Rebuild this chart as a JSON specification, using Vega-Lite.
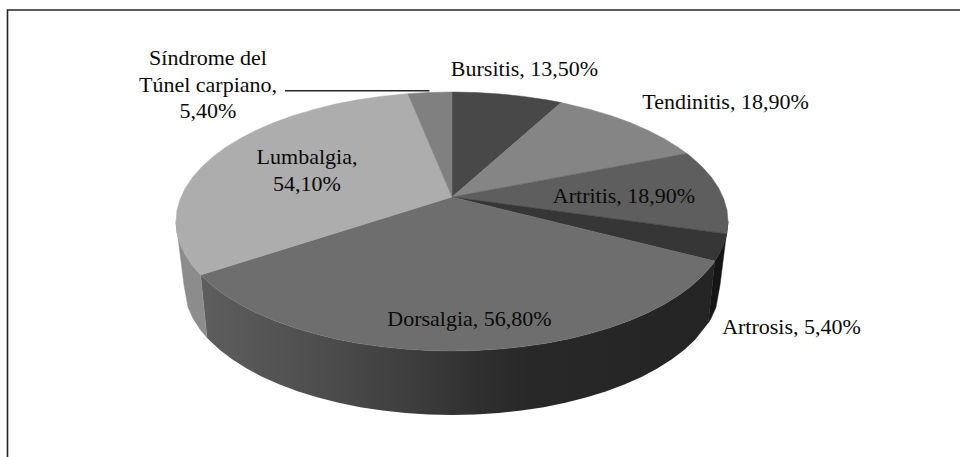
{
"$schema":"https://vega.github.io/schema/vega-lite/v6.json",
"width":960,"height":457,"padding":0,"autosize":"none",
"background":"white",
"config":{"view":{"stroke":null}},
"projection":{"type":"identity","reflectY":true,"scale":1,"translate":[452,221.5]},
"datasets":{
"porciones":{"type":"FeatureCollection","features":[
{"type":"Feature","properties":{"parte":"Lumbalgia lateral","valor":54.1},"geometry":{"type":"Polygon","coordinates":[[[-251.4,-53.5],[-259.4,-44.3],[-266.6,-33.5],[-271.8,-22.5],[-275,-11.3],[-276,0],[-268,-63.5],[-263.9,-86.1],[-258.9,-97.1],[-251.8,-108],[-245,-116.2],[-251.4,-53.5]]]}},
{"type":"Feature","properties":{"parte":"Artrosis lateral","valor":5.4},"geometry":{"type":"Polygon","coordinates":[[[262.8,-39.6],[266.6,-33.5],[271.8,-22.5],[274.7,-12.4],[276,0],[268,-63.5],[263.9,-86.1],[258.9,-97.1],[256.3,-101.5],[262.8,-39.6]]]}},
{"type":"Feature","properties":{"parte":"Bursitis","valor":13.5},"geometry":{"type":"Polygon","coordinates":[[[0,24.5],[0,129.5],[24.1,129],[47.9,127.5],[71.4,125.1],[94.4,121.7],[109.2,118.9],[0,24.5]]]}},
{"type":"Feature","properties":{"parte":"Tendinitis","valor":18.9},"geometry":{"type":"Polygon","coordinates":[[[0,24.5],[109.2,118.9],[138,112.1],[158.3,106.1],[177.4,99.2],[195.2,91.6],[211.4,83.2],[226.1,74.3],[234.8,68],[0,24.5]]]}},
{"type":"Feature","properties":{"parte":"Artritis","valor":18.9},"geometry":{"type":"Polygon","coordinates":[[[0,24.5],[234.8,68],[239,64.8],[250.1,54.7],[259.4,44.3],[266.6,33.5],[271.8,22.5],[275,11.3],[276,0],[274.7,-12.4],[0,24.5]]]}},
{"type":"Feature","properties":{"parte":"Artrosis","valor":5.4},"geometry":{"type":"Polygon","coordinates":[[[0,24.5],[274.7,-12.4],[271.8,-22.5],[266.6,-33.5],[262.8,-39.6],[0,24.5]]]}},
{"type":"Feature","properties":{"parte":"Dorsalgia","valor":56.8},"geometry":{"type":"Polygon","coordinates":[[[0,24.5],[262.8,-39.6],[259.4,-44.3],[250.1,-54.7],[239,-64.8],[226.1,-74.3],[211.4,-83.2],[195.2,-91.6],[177.4,-99.2],[158.3,-106.1],[138,-112.1],[116.6,-117.4],[94.4,-121.7],[71.4,-125.1],[47.9,-127.5],[24.1,-129],[0,-129.5],[-24.1,-129],[-47.9,-127.5],[-71.4,-125.1],[-94.4,-121.7],[-116.6,-117.4],[-138,-112.1],[-158.3,-106.1],[-177.4,-99.2],[-195.2,-91.6],[-211.4,-83.2],[-226.1,-74.3],[-239,-64.8],[-251.4,-53.5],[0,24.5]]]}},
{"type":"Feature","properties":{"parte":"Lumbalgia","valor":54.1},"geometry":{"type":"Polygon","coordinates":[[[0,24.5],[-251.4,-53.5],[-259.4,-44.3],[-266.6,-33.5],[-271.8,-22.5],[-275,-11.3],[-276,0],[-275,11.3],[-271.8,22.5],[-266.6,33.5],[-259.4,44.3],[-250.1,54.7],[-239,64.8],[-226.1,74.3],[-211.4,83.2],[-195.2,91.6],[-177.4,99.2],[-158.3,106.1],[-138,112.1],[-116.6,117.4],[-94.4,121.7],[-71.4,125.1],[-47.9,127.5],[-44.1,127.8],[0,24.5]]]}},
{"type":"Feature","properties":{"parte":"Síndrome del Túnel carpiano","valor":5.4},"geometry":{"type":"Polygon","coordinates":[[[0,24.5],[-44.1,127.8],[-24.1,129],[0,129.5],[0,24.5]]]}}
]},
"lateralDorsalgia":{"type":"FeatureCollection","features":[
{"type":"Feature","properties":{"parte":"Dorsalgia lateral","valor":56.8},"geometry":{"type":"Polygon","coordinates":[[[262.8,-39.6],[259.4,-44.3],[250.1,-54.7],[239,-64.8],[226.1,-74.3],[211.4,-83.2],[195.2,-91.6],[177.4,-99.2],[158.3,-106.1],[138,-112.1],[116.6,-117.4],[94.4,-121.7],[71.4,-125.1],[47.9,-127.5],[24.1,-129],[0,-129.5],[-24.1,-129],[-47.9,-127.5],[-71.4,-125.1],[-94.4,-121.7],[-116.6,-117.4],[-138,-112.1],[-158.3,-106.1],[-177.4,-99.2],[-195.2,-91.6],[-211.4,-83.2],[-226.1,-74.3],[-239,-64.8],[-251.4,-53.5],[-245,-116.2],[-242.9,-118.4],[-232.1,-128.5],[-219.5,-138.1],[-205.3,-147.1],[-189.5,-155.4],[-172.3,-163.1],[-153.7,-170],[-134,-176.1],[-113.3,-181.3],[-91.7,-185.7],[-69.4,-189.1],[-46.5,-191.5],[-23.4,-193],[0,-193.5],[23.4,-193],[46.5,-191.5],[69.4,-189.1],[91.7,-185.7],[113.3,-181.3],[134,-176.1],[153.7,-170],[172.3,-163.1],[189.5,-155.4],[205.3,-147.1],[219.5,-138.1],[232.1,-128.5],[242.9,-118.4],[256.3,-101.5],[262.8,-39.6]]]}}
]},
"trazos":{"type":"FeatureCollection","features":[
{"type":"Feature","properties":{"trazo":"marco"},"geometry":{"type":"LineString","coordinates":[[-444.5,-235.5],[-444.5,211.5],[508,211.5]]}},
{"type":"Feature","properties":{"trazo":"guía"},"geometry":{"type":"LineString","coordinates":[[-167,130.8],[-22.6,130.8]]}}
]},
"etiquetas":[
{"etiqueta":"Bursitis, 13,50%","lon":72.5,"lat":152.5},
{"etiqueta":"Tendinitis, 18,90%","lon":273.5,"lat":119.5},
{"etiqueta":"Artritis, 18,90%","lon":172,"lat":25.5},
{"etiqueta":"Artrosis, 5,40%","lon":339.5,"lat":-105.5},
{"etiqueta":"Dorsalgia, 56,80%","lon":17.5,"lat":-97.5},
{"etiqueta":"Lumbalgia,\n54,10%","lon":-145,"lat":64.5},
{"etiqueta":"Síndrome del\nTúnel carpiano,\n5,40%","lon":-244,"lat":163.5}
]
},
"layer":[
{"data":{"name":"trazos","format":{"type":"json","property":"features"}},
 "mark":{"type":"geoshape","filled":false,"stroke":"#262626","strokeWidth":1.6},
 "encoding":{}},
{"data":{"name":"lateralDorsalgia","format":{"type":"json","property":"features"}},
 "mark":{"type":"geoshape","fill":{"gradient":"linear","x1":0,"y1":0,"x2":1,"y2":0,"stops":[{"offset":0,"color":"#5e5e5e"},{"offset":0.25,"color":"#4c4c4c"},{"offset":0.445,"color":"#3a3a3a"},{"offset":0.54,"color":"#2f2f2f"},{"offset":0.64,"color":"#282828"},{"offset":1,"color":"#242424"}]}},
 "encoding":{}},
{"data":{"name":"porciones","format":{"type":"json","property":"features"}},
 "mark":{"type":"geoshape","strokeWidth":0.5},
 "encoding":{
  "color":{"field":"properties.parte","type":"nominal","legend":null,
   "scale":{"domain":["Bursitis","Tendinitis","Artritis","Artrosis","Dorsalgia","Lumbalgia","Síndrome del Túnel carpiano","Lumbalgia lateral","Artrosis lateral"],
    "range":["#484848","#858585","#5e5e5e","#363636","#6e6e6e","#adadad","#808080","#8c8c8c","#151515"]}},
  "stroke":{"field":"properties.parte","type":"nominal","legend":null,
   "scale":{"domain":["Bursitis","Tendinitis","Artritis","Artrosis","Dorsalgia","Lumbalgia","Síndrome del Túnel carpiano","Lumbalgia lateral","Artrosis lateral"],
    "range":["#484848","#858585","#5e5e5e","#363636","#6e6e6e","#adadad","#808080","#8c8c8c","#151515"]}}
 }},
{"data":{"name":"etiquetas"},
 "mark":{"type":"text","font":"Liberation Serif","fontSize":22,"color":"#0a0a0a","align":"center","baseline":"middle","lineBreak":"\n","lineHeight":26.5},
 "encoding":{
  "longitude":{"field":"lon","type":"quantitative"},
  "latitude":{"field":"lat","type":"quantitative"},
  "text":{"field":"etiqueta","type":"nominal"}
 }}
]
}
